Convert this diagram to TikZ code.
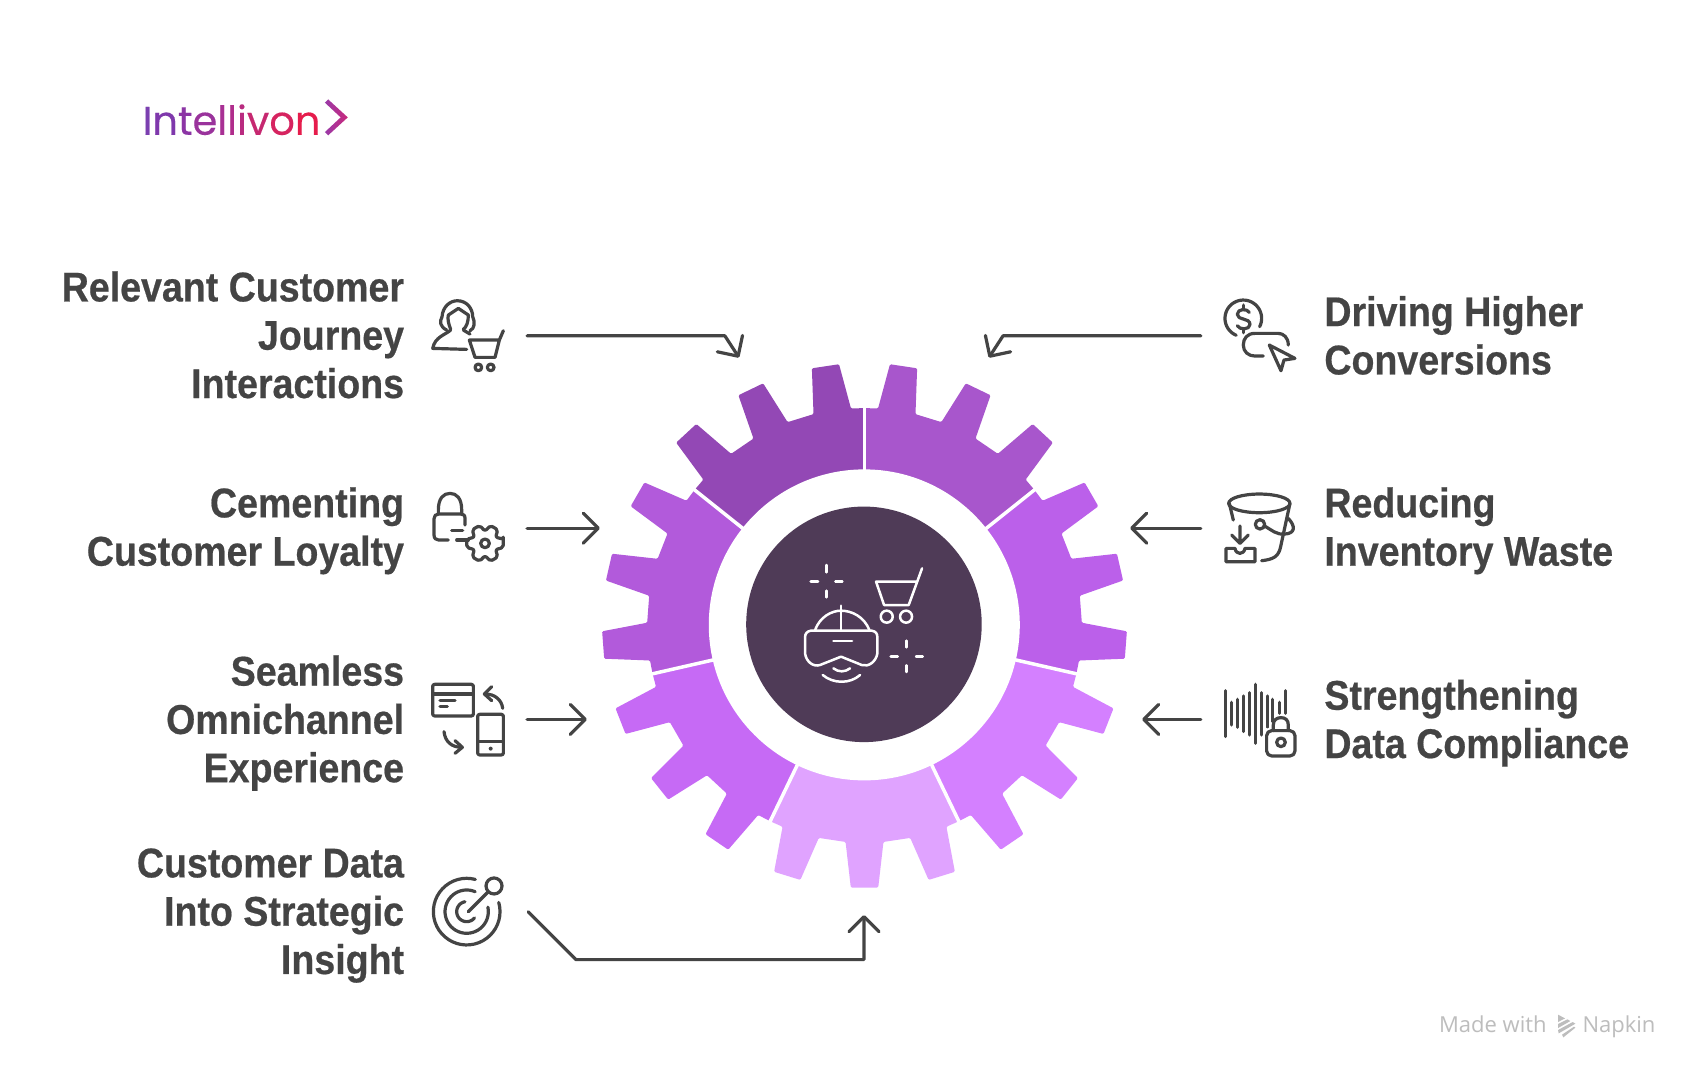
\documentclass[tikz,border=0pt]{standalone}
\usepackage{fontspec}
\usetikzlibrary{arrows.meta}
\newfontfamily\lblfont[FakeStretch=0.905,BoldFeatures={FakeBold=0.5,FakeStretch=0.905}]{Liberation Sans}
\newfontfamily\logofont[FakeBold=0.3]{Poppins}
\newfontfamily\markfont{Open Sans}
\definecolor{txt}{HTML}{444444}
\definecolor{segA}{HTML}{A856CC}
\definecolor{segB}{HTML}{BB60EA}
\definecolor{segC}{HTML}{D480FF}
\definecolor{segD}{HTML}{E0A3FF}
\definecolor{segE}{HTML}{C66AF5}
\definecolor{segF}{HTML}{B25ADB}
\definecolor{segG}{HTML}{9348B5}
\definecolor{hubc}{HTML}{4F3B57}
\definecolor{wm}{HTML}{BDBDBD}
\definecolor{chevA}{HTML}{9A3AA8}
\definecolor{chevB}{HTML}{C9287A}
\newcommand{\iarc}[5]{plot[domain=#4:#5,samples=40] ({#1+#3*cos(\x)},{#2+#3*sin(\x)})}
\newcommand{\lc}[2]{\textcolor[HTML]{#1}{#2}}
\tikzset{
  lblbase/.style={font=\lblfont\fontsize{41.5}{48.3}\selectfont\bfseries,text=txt,inner sep=0pt,
    execute at begin node={\vphantom{Jg}},execute at end node={\vphantom{Jg}}},
  lblL/.style={lblbase,align=right,anchor=east},
  lblR/.style={lblbase,align=left,anchor=west},
  conn/.style={draw=txt,line width=3.2pt,line join=round,line cap=round,-{Straight Barb[length=15pt,width=30pt,round,line width=3.2pt]}},
  ico/.style={draw=txt,line width=3.2pt,line cap=round,line join=round,fill=none},
  icow/.style={draw=white,line width=2.5pt,line cap=round,line join=round,fill=none},
  zs/.style={scale=0.3067}
}
\begin{document}
\begin{tikzpicture}[x=1.0867pt,y=-1.0867pt]
\useasboundingbox (0,0) rectangle (1568,994.75);
\fill[white] (0,0) rectangle (1568,994.75);
% gear
\begin{scope}[shift={(795.5,575.5)}]
\foreach \i/\c in {0/segA,1/segB,2/segC,3/segD,4/segE,5/segF,6/segG}{
  \pgfmathsetmacro\a{51.4286*\i-90}
  \fill[\c,rounded corners=1.2pt] (0,0) -- (\a:200)
    foreach \t in {8.57,25.71,42.86} { -- ({\a+\t-5}:200) -- ({\a+\t-3}:241.5) -- ({\a+\t+3}:241.5) -- ({\a+\t+5}:200) }
    -- ({\a+51.43}:200) -- cycle;
}
\foreach \i in {0,...,6}{
  \pgfmathsetmacro\a{51.4286*\i-90}
  \draw[white,line width=3.5pt] (0,0) -- (\a:206);
}
\end{scope}
\node[circle,fill=white,inner sep=0pt,minimum size=311pt] (ring) at (795.3,575) {};
\node[circle,fill=hubc,inner sep=0pt,minimum size=235.5pt] (hub) at (795,574.5) {};
% hub icon
\begin{scope}[shift={(708.6,496.9)},zs]
\draw[icow] (170,75)--(170,97) (170,152)--(170,172) (122,124)--(144,124) (196,124)--(217,124);
\draw[icow] (410,302)--(410,322) (410,376)--(410,396) (362,349)--(383,349) (438,349)--(458,349);
\draw[icow] (456,85)--(416,195)--(342,195)--(318,125)--(438,125);
\draw[icow] (350,230) circle[radius=18] (408,230) circle[radius=18];
\draw[icow] (135,270) .. controls (150,230) and (185,212) .. (213,212) .. controls (245,212) and (282,230) .. (298,270);
\draw[icow] (213,197)--(213,270);
\draw[icow] (122,272) -- (305,272) .. controls (318,274) and (322,282) .. (322,292) -- (322,340) .. controls (318,365) and (295,382) .. (275,375) -- (213,350) -- (150,375) .. controls (130,382) and (108,365) .. (105,340) -- (105,292) .. controls (105,282) and (110,274) .. (122,272) -- cycle;
\draw[icow] (190,303)--(246,303);
\draw[icow] (190,385) .. controls (205,397) and (225,397) .. (240,385);
\draw[icow] (158,405) .. controls (190,432) and (240,432) .. (270,405);
\end{scope}
% connectors
\coordinate (c1a) at (485,309); \coordinate (c1b) at (667,309); \coordinate (c1c) at (680,329);
\coordinate (c2a) at (1105,309); \coordinate (c2b) at (923,309); \coordinate (c2c) at (910,329);
\coordinate (c3a) at (485,486); \coordinate (c3b) at (552,486);
\coordinate (c4a) at (1105,486); \coordinate (c4b) at (1040,486);
\coordinate (c5a) at (485,662); \coordinate (c5b) at (540,662);
\coordinate (c6a) at (1105,662); \coordinate (c6b) at (1051,662);
\coordinate (c7a) at (486,839); \coordinate (c7b) at (530,883); \coordinate (c7c) at (795,883); \coordinate (c7d) at (795,842);
\draw[conn] (c1a)--(c1b)--(c1c);
\draw[conn] (c2a)--(c2b)--(c2c);
\draw[conn] (c3a)--(c3b);
\draw[conn] (c4a)--(c4b);
\draw[conn] (c5a)--(c5b);
\draw[conn] (c6a)--(c6b);
\draw[conn] (c7a)--(c7b)--(c7c)--(c7d);
% labels
\node[lblL] (t1) at (372,312) {Relevant Customer\\Journey\\Interactions};
\node[lblL] (t2) at (372,488.5) {Cementing\\Customer Loyalty};
\node[lblL] (t3) at (372,665.5) {Seamless\\Omnichannel\\Experience};
\node[lblL] (t4) at (372,842.5) {Customer Data\\Into Strategic\\Insight};
\node[lblR] (t5) at (1218.5,312.5) {Driving Higher\\Conversions};
\node[lblR] (t6) at (1218.5,488.5) {Reducing\\Inventory Waste};
\node[lblR] (t7) at (1218.5,665.5) {Strengthening\\Data Compliance};
% left icons upper
\begin{scope}[shift={(386.5,257.7)},zs]
\draw[ico] (80,150) .. controls (60,140) and (58,125) .. (66,110) .. controls (68,80) and (90,62) .. (112,62) .. controls (140,62) and (158,85) .. (158,110) .. controls (165,125) and (165,145) .. (150,152);
\draw[ico] (92,148) .. controls (85,130) and (82,115) .. (85,105) -- (115,85) -- (145,105) .. controls (145,125) and (140,140) .. (130,148);
\draw[ico] (92,150) .. controls (75,165) and (45,170) .. (38,205) -- (140,208);
\draw[ico] (130,150) -- (150,162);
\draw[ico] (250,152)--(238,180)--(148,180)--(165,232)--(225,232)--(238,180);
\draw[ico] (175,262) circle[radius=10] (212,262) circle[radius=10];
% lock gear
\draw[ico] (55,702) -- (55,690) .. controls (55,655) and (70,640) .. (90,640) .. controls (110,640) and (125,655) .. (125,690) -- (125,702);
\draw[ico] (135,735) -- (135,715) .. controls (135,705) and (130,702) .. (122,702) -- (55,702) .. controls (47,702) and (42,708) .. (42,716) -- (42,765) .. controls (42,775) and (48,780) .. (56,780) -- (85,780);
\draw[ico] (95,752)--(128,752) (110,780)--(145,780);
\draw[ico] (195,790) circle[radius=13];
\begin{scope}[shift={(195,790)}]
\draw[ico,rounded corners=2pt] (-13:56)
  foreach \k in {0,60,...,300} { -- ({\k-13}:56) -- ({\k+13}:56) -- ({\k+30}:37) } -- cycle;
\end{scope}
\end{scope}
% left icons lower
\begin{scope}[shift={(386.5,616.5)},zs]
\draw[ico,rounded corners=2pt] (38,43) rectangle (160,138);
\draw[ico] (38,72)--(160,72) (60,92)--(105,92) (60,110)--(82,110);
\draw[ico] (248,115) .. controls (245,90) and (225,72) .. (195,72);
\draw[ico] (215,50)--(193,72)--(215,92);
\draw[ico,rounded corners=2pt] (173,133) rectangle (250,255);
\draw[ico] (173,215)--(250,215);
\fill[txt] (212,236) circle[radius=6];
\draw[ico] (72,185) .. controls (75,215) and (95,232) .. (125,232);
\draw[ico] (105,212)--(127,232)--(105,250);
% target
\draw[ico] \iarc{140}{725}{100}{-75}{-376};
\draw[ico] \iarc{140}{725}{65}{-67}{-372};
\draw[ico] \iarc{140}{725}{30}{-100}{-321};
\draw[ico] (145,725)--(205,665);
\draw[ico] (222,648) circle[radius=24];
\end{scope}
% right icons upper
\begin{scope}[shift={(1113.4,257.7)},zs]
\draw[ico] \iarc{100}{115}{55}{27}{-247};
\draw[ico] (118,97) .. controls (112,85) and (82,85) .. (82,103) .. controls (82,122) and (120,112) .. (120,133) .. controls (120,150) and (88,150) .. (82,137);
\draw[ico] (100,75)--(100,86) (100,148)--(100,158);
\draw[ico] (235,195) .. controls (235,172) and (220,160) .. (205,160) -- (135,160) .. controls (112,160) and (100,175) .. (100,195) .. controls (100,215) and (115,228) .. (135,228) -- (160,228);
\draw[ico] (178,195) -- (255,235) -- (222,240) -- (213,272) -- cycle;
% bucket
\draw[ico] (148,670) ellipse[x radius=92,y radius=28];
\draw[ico] (58,670)--(70,720);
\draw[ico] (240,670)--(212,800) .. controls (206,830) and (190,838) .. (155,842);
\draw[ico] (150,733) circle[radius=14];
\draw[ico] (164,738) .. controls (185,750) and (200,765) .. (225,762) .. controls (255,760) and (258,740) .. (235,715);
\draw[ico] (90,738)--(90,785) (65,765)--(90,790)--(115,765);
\draw[ico] (48,805)--(75,805) .. controls (78,825) and (102,825) .. (105,805)--(135,805)--(135,845)--(48,845)--cycle;
\end{scope}
\begin{scope}[shift={(1113.4,616.5)},zs]
\foreach \xx/\p/\q in {46/62/200,64/97/165,82/88/172,100/78/185,118/68/195,136/43/220,154/68/195,172/78/172,188/88/155,208/97/130,226/62/130}
  \draw[ico] (\xx,\p)--(\xx,\q);
\fill[white,rounded corners=3pt] (160,175) rectangle (265,265);
\draw[ico,rounded corners=5pt] (170,182) rectangle (255,258);
\draw[ico] (190,182)--(190,165) .. controls (190,150) and (200,143) .. (213,143) .. controls (226,143) and (235,150) .. (235,165)--(235,182);
\draw[ico] (213,217) circle[radius=13];
\end{scope}
% logo
\node[anchor=base west,inner sep=0pt,font=\logofont\fontsize{40}{40}\selectfont] (logo) at (131,124) {\lc{7B3FB0}{I}\lc{7F38AC}{n}\lc{8C35A5}{t}\lc{9A339C}{e}\lc{A83094}{l}\lc{B02D8C}{l}\lc{B92B80}{i}\lc{C62870}{v}\lc{D62460}{o}\lc{E61C4C}{n}};
\shade[left color=chevA, right color=chevB] (299,94.5)--(302,91.5)--(320,108)--(302,124.5)--(299,121.5)--(313.5,108)--cycle;
% watermark
\node[anchor=base west,inner sep=0pt,font=\markfont\fontsize{22}{22}\selectfont,text=wm] (mw) at (1324,950) {Made with};
\node[anchor=base west,inner sep=0pt,font=\markfont\fontsize{22}{22}\selectfont,text=wm] (mn) at (1456,950) {Napkin};
\begin{scope}[shift={(1315.9,920.2)},zs]
\fill[wm] (384,44)--(405,55)--(384,66)--cycle;
\fill[wm] (384,72)--(412,58)--(421,63)--(384,84)--cycle;
\fill[wm] (384,90)--(428,66)--(436,71)--(386,100)--cycle;
\fill[wm] (396,104)--(432,80)--(436,83)--(400,112)--cycle;
\end{scope}
\end{tikzpicture}
\end{document}
